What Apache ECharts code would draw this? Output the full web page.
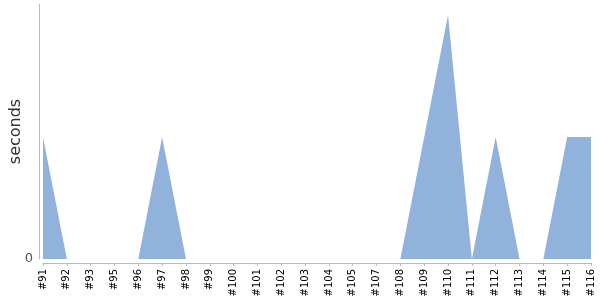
<!DOCTYPE html>
<html><head><meta charset="utf-8">
<script src="https://cdn.jsdelivr.net/npm/echarts@6/dist/echarts.min.js"></script>
<style>html,body{margin:0;padding:0;background:#fff}#c{width:600px;height:300px}</style>
</head><body><div id="c"></div>
<script>
const categories = ['#91','#92','#93','#95','#96','#97','#98','#99','#100','#101','#102','#103','#104','#105','#107','#108','#109','#110','#111','#112','#113','#114','#115','#116'];
const seconds = [1,0,0,0,0,1,0,0,0,0,0,0,0,0,0,0,1,2,0,1,0,0,1,1];
const yTickLabels = ['0'];
const chart = echarts.init(document.getElementById('c'), null, {renderer:'canvas'});
chart.setOption({
  animation:false,
  grid:{left:43,right:9,top:4,bottom:41,containLabel:false,outerBoundsMode:'none'},
  xAxis:{type:'category',data:categories,boundaryGap:false,offset:4,
    axisLine:{onZero:false,lineStyle:{color:'#bbbbbb'}},
    axisTick:{show:true,length:3,alignWithLabel:true,lineStyle:{color:'#bbbbbb'}},
    axisLabel:{rotate:90,interval:0,fontSize:10,color:'#000',fontFamily:'DejaVu Sans',margin:6},
    splitLine:{show:false}},
  yAxis:{type:'value',min:0,max:2.09,interval:3,offset:4,
    name:'seconds',nameLocation:'middle',nameGap:15,nameMoveOverlap:false,
    nameTextStyle:{fontSize:16,color:'#333',fontFamily:'DejaVu Sans'},
    axisLine:{show:true,lineStyle:{color:'#bbbbbb'}},
    axisTick:{show:false},
    splitLine:{show:false},
    axisLabel:{color:'#555',fontSize:13,fontFamily:'DejaVu Sans',margin:6,showMaxLabel:false,
      formatter:v=>v===0?yTickLabels[0]:''}},
  series:[{type:'line',data:seconds,symbol:'none',
    lineStyle:{width:0,color:'#91b2db'},
    areaStyle:{color:'#91b2db',opacity:1}}]
});
</script></body></html>
